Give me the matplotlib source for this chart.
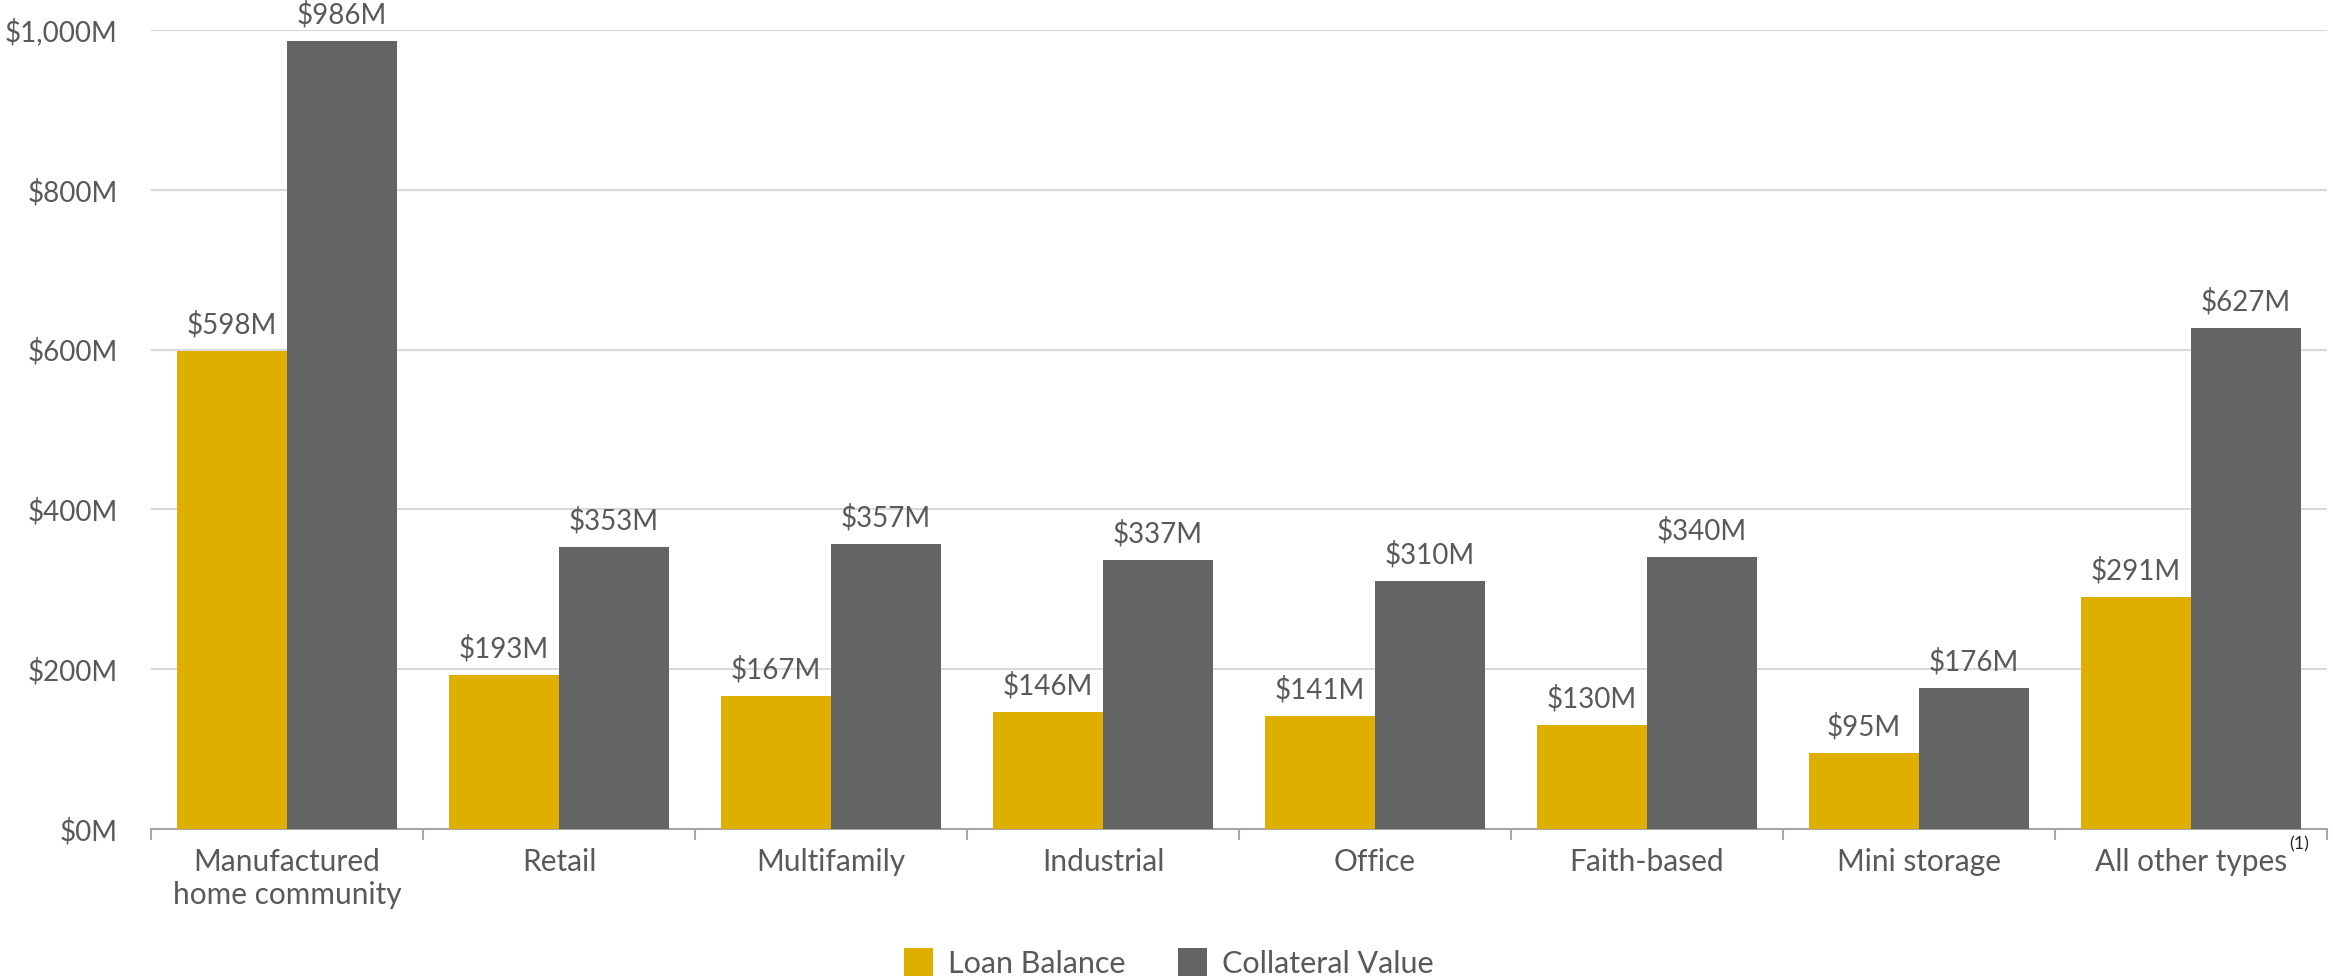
import numpy as np
import matplotlib
matplotlib.use("Agg")
import matplotlib.pyplot as plt

plt.rcParams['font.family'] = ['Lato', 'DejaVu Sans']

categories = ["Manufactured\nhome community", "Retail", "Multifamily", "Industrial",
              "Office", "Faith-based", "Mini storage", "All other types"]
loan_balance = [598, 193, 167, 146, 141, 130, 95, 291]
collateral_value = [986, 353, 357, 337, 310, 340, 176, 627]
yticks = [0, 200, 400, 600, 800, 1000]

text_color = "#595959"
yellow = "#DEAE00"
gray = "#646464"

fig = plt.figure(figsize=(23.33, 9.76), dpi=100)
ax = fig.add_axes([0.0647, 0.1506, 0.9327, 0.8186])

x = np.arange(len(categories))
w = 0.404
b1 = ax.bar(x - w / 2, loan_balance, w, color=yellow, label="Loan Balance", zorder=3)
b2 = ax.bar(x + w / 2, collateral_value, w, color=gray, label="Collateral Value", zorder=3)

for bars in (b1, b2):
    for r in bars:
        h = r.get_height()
        ax.annotate(f"${h:.0f}M", (r.get_x() + r.get_width() / 2, h),
                    xytext=(0, 9), textcoords="offset points",
                    ha="center", va="bottom", fontsize=20, color=text_color,
                    clip_on=False, zorder=4)

ax.set_xlim(-0.5, len(categories) - 0.5)
ax.set_ylim(0, 1000)
ax.set_yticks(yticks)
ax.set_yticklabels([f"${v:,}M" for v in yticks])
ax.yaxis.grid(True, color="#D9D9D9", linewidth=1.5, zorder=0)
ax.tick_params(axis="y", length=0, pad=24, labelsize=20, labelcolor=text_color)

ax.set_xticks(x)
ax.set_xticklabels(categories)
ax.set_xticks(np.arange(-0.5, len(categories), 1), minor=True)
ax.tick_params(axis="x", which="major", length=0, pad=14, labelsize=21.5, labelcolor=text_color)
ax.tick_params(axis="x", which="minor", length=8, width=1.5, color="#A6A6A6")

for s in ("top", "right", "left"):
    ax.spines[s].set_visible(False)
ax.spines["bottom"].set_color("#A6A6A6")
ax.spines["bottom"].set_linewidth(1.5)

# superscript note on the last category
fig.canvas.draw()
lab = ax.get_xticklabels()[-1]
bb = lab.get_window_extent()
fig.text(bb.x1 / fig.bbox.width + 0.001, bb.y1 / fig.bbox.height - 0.004, "(1)",
         fontsize=13, color="#262626", ha="left", va="bottom")

fig.legend(handles=[b1, b2], loc="lower center", bbox_to_anchor=(0.501, -0.03),
           ncol=2, frameon=False, fontsize=22, labelcolor=text_color,
           handlelength=0.95, handleheight=1.1, handletextpad=0.5, columnspacing=1.7)

fig.savefig("out.png", dpi=100)
